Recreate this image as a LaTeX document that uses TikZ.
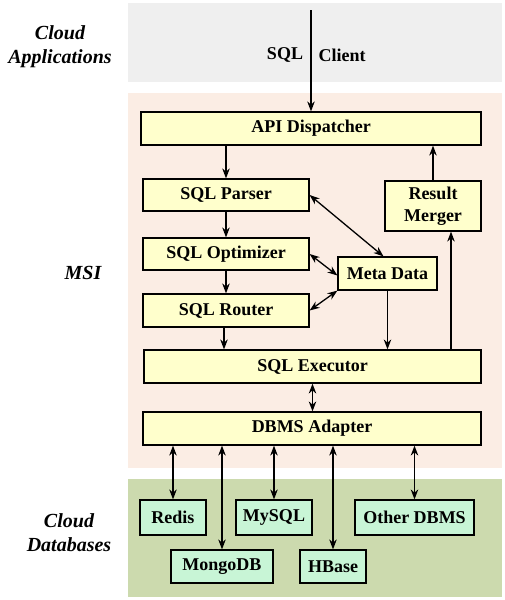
\documentclass[tikz,border=0pt]{standalone}
\usepackage{fontspec}
\setmainfont{Liberation Serif}
\usetikzlibrary{arrows.meta}
\tikzset{>={Stealth[length=10pt,width=7.5pt]}}

\definecolor{appgray}{HTML}{EFEFEF}
\definecolor{msipink}{HTML}{FBEDE4}
\definecolor{boxyellow}{HTML}{FFFFCC}
\definecolor{dbgreen}{HTML}{CCDAAE}
\definecolor{boxmint}{HTML}{C8F5D6}

\tikzset{
  layer/.style={font=\fontsize{20}{24}\selectfont\bfseries\itshape, align=center},
  module/.style={draw, line width=1.2pt, fill=boxyellow, inner sep=0pt,
    font=\fontsize{18}{22}\selectfont\bfseries, align=center},
  dbbox/.style={module, fill=boxmint},
  link/.style={line width=1.3pt}
}

\begin{document}
\begin{tikzpicture}[x=1pt, y=-1pt]
  \useasboundingbox (0, 0) rectangle (504, 600);
  \fill[appgray] (128, 3) rectangle (502, 82);
  \fill[msipink] (128, 93) rectangle (502, 468);
  \fill[dbgreen] (128, 479) rectangle (502, 597);

  \node[layer] (apps) at (60, 47) {Cloud\\Applications};
  \node[layer] (msi) at (83, 273) {MSI};
  \node[layer] (dbs) at (69, 533) {Cloud\\Databases};

  \node[module, minimum width=340, minimum height=33] (api) at (311, 128.5) {API Dispatcher};
  \node[module, minimum width=166, minimum height=32] (parser) at (226, 195) {SQL Parser};
  \node[module, minimum width=96, minimum height=50] (merger) at (433, 206) {Result\\Merger};
  \node[module, minimum width=166, minimum height=32] (optim) at (226, 254) {SQL Optimizer};
  \node[module, minimum width=99, minimum height=33] (meta) at (387.5, 273.5) {Meta Data};
  \node[module, minimum width=166, minimum height=33] (router) at (226, 310.5) {SQL Router};
  \node[module, minimum width=337, minimum height=33] (exec) at (312.5, 366.5) {SQL Executor};
  \node[module, minimum width=338, minimum height=33] (adapter) at (312, 428.5) {DBMS Adapter};

  \node[dbbox, minimum width=66, minimum height=35] (redis) at (173, 517.5) {Redis};
  \node[dbbox, minimum width=76, minimum height=35] (mysql) at (274, 517.5) {MySQL};
  \node[dbbox, minimum width=119, minimum height=35] (other) at (414.5, 517.5) {Other DBMS};
  \node[dbbox, minimum width=102, minimum height=33] (mongo) at (222, 566.5) {MongoDB};
  \node[dbbox, minimum width=66, minimum height=33] (hbase) at (333, 566.5) {HBase};

  % client request
  \coordinate (client) at (311, 10);
  \node[font=\fontsize{18}{22}\selectfont\bfseries] (sqltxt) at (285, 55) {SQL};
  \node[font=\fontsize{18}{22}\selectfont\bfseries] (clienttxt) at (342, 55) {Client};
  \draw[->, link] (client) -- (api.north);

  \draw[->, link] (parser.north |- api.south) -- (parser.north);
  \draw[->, link] (merger.north) -- (merger.north |- api.south);
  \draw[->, link] (parser) -- (optim);
  \draw[->, link] (optim) -- (router);
  \draw[<->, link] (parser.east) -- ([xshift=-4]meta.north);
  \draw[<->, link] (optim.east) -- ([yshift=-2]meta.west);
  \draw[<->, link] (router.east) -- (meta.south west);
  \draw[->, link] ([xshift=-2]router.south) -- ([xshift=-2]router.south |- exec.north);
  \draw[->, link] (meta.south) -- (meta.south |- exec.north);
  \coordinate (mergerin) at ([xshift=18]merger.south);
  \draw[->, link] (mergerin |- exec.north) -- (mergerin);
  \draw[<->, link] (exec.south) -- (exec.south |- adapter.north);

  \foreach \db in {redis, mongo, mysql, hbase, other}
    \draw[<->, link] (\db.north |- adapter.south) -- (\db.north);
\end{tikzpicture}
\end{document}
